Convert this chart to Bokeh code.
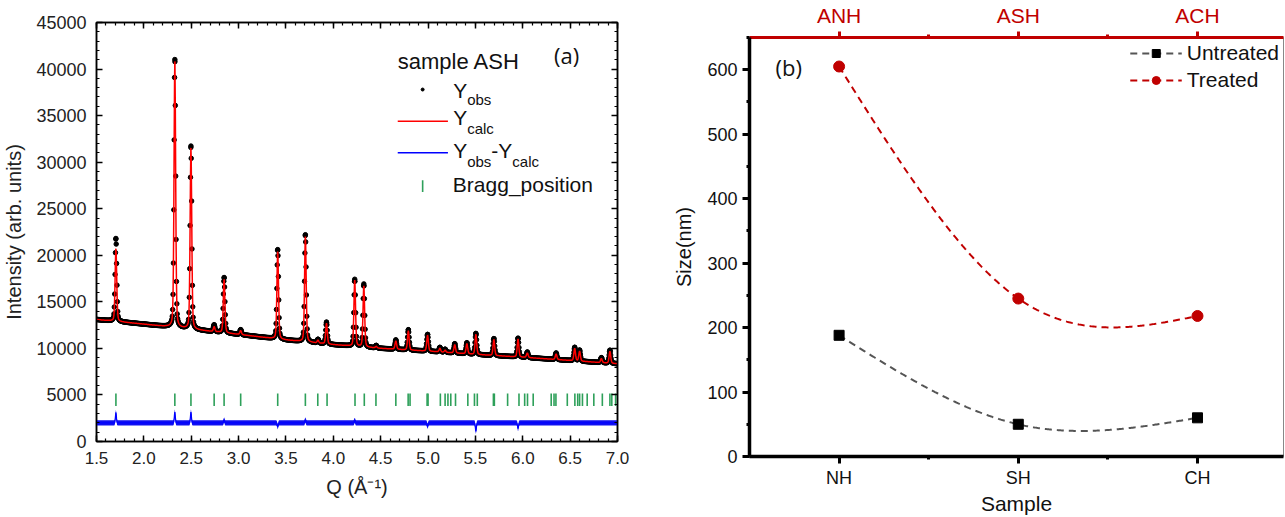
import numpy as np
from bokeh.plotting import figure
from bokeh.layouts import row, column
from bokeh.models import (Label, LinearAxis, SingleIntervalTicker, FixedTicker,
                          PrintfTickFormatter, CustomJSTickFormatter, Range1d)
from bokeh.embed import file_html
from bokeh.resources import INLINE

# ---------------- Panel (a) data ----------------
bg_q = [1.5, 2.0, 2.5, 3.0, 3.5, 4.0, 4.5, 5.0, 5.5, 6.0, 6.5, 7.0]
bg_i = [13100, 12600, 12050, 11500, 10900, 10400, 10000, 9700, 9350, 9050, 8700, 8350]

peak_q = [1.705, 2.327, 2.497, 2.742, 2.847, 3.022, 3.413, 3.705, 3.838, 3.928,
          4.226, 4.322, 4.453, 4.660, 4.792, 4.995, 5.125, 5.180, 5.282, 5.410,
          5.505, 5.695, 5.950, 6.048, 6.352, 6.548, 6.600, 6.830, 6.920]
peak_calc = [20700, 40800, 31500, 12300, 17400, 11900, 20400, 22000, 10850, 12700,
             17300, 16700, 10200, 10800, 11900, 11400, 10000, 9800, 10400, 10500,
             11500, 10950, 11000, 9500, 9400, 10000, 9700, 8900, 9700]
peak_obs = [21800, 41000, 31700, 12500, 17600, 12000, 20600, 22200, 10950, 12800,
            17400, 16900, 10300, 10900, 12000, 11500, 10100, 9900, 10500, 10600,
            11600, 11050, 11100, 9600, 9500, 10100, 9800, 9000, 9800]

bragg_q = [1.705, 2.327, 2.497, 2.742, 2.847, 3.022, 3.413, 3.705, 3.836, 3.934,
           4.229, 4.327, 4.45, 4.66, 4.79, 4.81, 4.99, 5.00, 5.13, 5.18, 5.21,
           5.24, 5.29, 5.42, 5.49, 5.52, 5.69, 5.70, 5.84, 5.96, 6.02, 6.05, 6.11,
           6.30, 6.33, 6.35, 6.47, 6.55, 6.58, 6.60, 6.63, 6.68, 6.75, 6.84, 6.92,
           6.94, 6.98]
bragg_lo, bragg_hi = 3800, 5150

diff_base = 2000
diff_q = [1.705, 2.327, 2.497, 2.847, 3.413, 3.705, 4.226, 4.995, 5.505, 5.950]
diff_amp = [1100, 1150, 1150, 300, -400, 300, 250, -350, -900, -600]

# ---------------- Panel (b) data ----------------
sample_pos = [1, 2, 3]
samples = ["NH", "SH", "CH"]
top_samples = ["ANH", "ASH", "ACH"]
untreated = [188, 50, 60]
treated = [605, 245, 218]

RED_B = "#C00000"
GRAY_B = "#555555"
GREEN = "#2EA05A"
FONT = "Liberation Sans"

# ---------------- profile construction ----------------
q = np.union1d(np.arange(1.5, 7.0001, 0.004), np.array(peak_q))
bg = np.interp(q, bg_q, bg_i)


def pv(x, w=0.02, eta=0.3):
    g = np.exp(-4 * np.log(2) * x ** 2 / w ** 2)
    lo = 1.0 / (1.0 + 4 * x ** 2 / w ** 2)
    return eta * lo + (1 - eta) * g


def profile(tops):
    y = bg.copy()
    for pq, top in zip(peak_q, tops):
        amp = top - np.interp(pq, bg_q, bg_i)
        y = y + amp * pv(q - pq)
    return y


calc = profile(peak_calc)
obs = profile(peak_obs)
diff = np.full_like(q, float(diff_base))
for dq, da in zip(diff_q, diff_amp):
    diff = diff + da * np.exp(-4 * np.log(2) * (q - dq) ** 2 / 0.012 ** 2)

blank = CustomJSTickFormatter(code="return ''")

p1 = figure(width=665, height=517, x_range=Range1d(1.5, 7.0), y_range=Range1d(0, 45000),
            output_backend="svg", toolbar_location=None,
            min_border_left=95, min_border_right=48, min_border_top=22, min_border_bottom=76)
p1.grid.visible = False
p1.outline_line_color = "black"
p1.outline_line_width = 1.5

xt = SingleIntervalTicker(interval=0.5, num_minor_ticks=5)
yt = SingleIntervalTicker(interval=5000, num_minor_ticks=5)
bx1 = p1.below[0]
ly1 = p1.left[0]
bx1.ticker = xt
ly1.ticker = yt
bx1.formatter = PrintfTickFormatter(format="%.1f")
ly1.formatter = PrintfTickFormatter(format="%d")
tx1 = LinearAxis(ticker=xt, formatter=blank, major_label_standoff=0)
ry1 = LinearAxis(ticker=yt, formatter=blank, major_label_standoff=0)
p1.add_layout(tx1, "above")
p1.add_layout(ry1, "right")
for ax in p1.axis:
    ax.axis_line_width = 1.5
    ax.major_tick_in = 6
    ax.major_tick_out = 0
    ax.minor_tick_in = 3
    ax.minor_tick_out = 0
    ax.major_tick_line_width = 1.5
    ax.minor_tick_line_width = 1.2
    ax.major_label_text_font = FONT
    ax.major_label_text_font_size = "17px"
    ax.major_label_text_color = "#222222"
    ax.axis_label_text_font = FONT
    ax.axis_label_text_font_style = "normal"
    ax.axis_label_text_font_size = "20px"
    ax.axis_label_text_color = "#222222"
tx1.major_label_text_font_size = "0px"
ry1.major_label_text_font_size = "0px"
ly1.major_label_text_font_size = "18px"
bx1.axis_label = "Q (Å⁻¹)"
bx1.major_label_standoff = 10
bx1.axis_label_standoff = 9
ly1.axis_label = "Intensity (arb. units)"
ly1.major_label_standoff = 10
ly1.axis_label_standoff = 8

p1.scatter(q, obs, size=4.5, color="black")
p1.line(q, calc, color="red", line_width=1.5)
p1.varea(x=q, y1=diff - 280, y2=diff + 280, color="#1010F0")
p1.line(q, diff, color="blue", line_width=1.2)
p1.segment(x0=bragg_q, y0=bragg_lo, x1=bragg_q, y1=bragg_hi, color=GREEN, line_width=1.6)


# manual legend (a)
def lab(plot, x, y, text, size="21px", font=FONT, color="#111111", align="left"):
    plot.add_layout(Label(x=x, y=y, text=text, text_font=font, text_font_size=size,
                          text_color=color, text_baseline="middle", text_align=align))


lab(p1, 4.68, 40800, "sample ASH", size="22px")
lab(p1, 6.33, 41500, "(a)", size="22px", font="Open Sans")
p1.scatter([4.943], [37800], size=3, color="black")
lab(p1, 5.265, 37750, "Y")
lab(p1, 5.413, 36750, "obs", size="15px")
p1.line([4.68, 5.21], [34400, 34400], color="red", line_width=1.5)
lab(p1, 5.265, 34750, "Y")
lab(p1, 5.413, 33600, "calc", size="15px")
p1.line([4.68, 5.21], [31000, 31000], color="blue", line_width=1.5)
lab(p1, 5.265, 31250, "Y")
lab(p1, 5.413, 30050, "obs", size="15px")
lab(p1, 5.668, 31250, "-Y")
lab(p1, 5.890, 30050, "calc", size="15px")
p1.segment(x0=[4.943], y0=[26800], x1=[4.943], y1=[28050], color=GREEN, line_width=1.6)
lab(p1, 5.262, 27550, "Bragg_position")


# ---------------- Panel (b) ----------------
def natural_spline(xs, ys, n=300):
    xs = np.asarray(xs, float)
    ys = np.asarray(ys, float)
    k = len(xs)
    h = np.diff(xs)
    A = np.zeros((k, k))
    r = np.zeros(k)
    A[0, 0] = A[-1, -1] = 1
    for i in range(1, k - 1):
        A[i, i - 1] = h[i - 1]
        A[i, i] = 2 * (h[i - 1] + h[i])
        A[i, i + 1] = h[i]
        r[i] = 6 * ((ys[i + 1] - ys[i]) / h[i] - (ys[i] - ys[i - 1]) / h[i - 1])
    M = np.linalg.solve(A, r)
    xx = np.linspace(xs[0], xs[-1], n)
    yy = np.empty_like(xx)
    for j, x in enumerate(xx):
        i = min(np.searchsorted(xs, x, side="right") - 1, k - 2)
        a = xs[i + 1] - x
        b = x - xs[i]
        hi = h[i]
        yy[j] = (M[i] * a ** 3 / (6 * hi) + M[i + 1] * b ** 3 / (6 * hi)
                 + (ys[i] / hi - M[i] * hi / 6) * a + (ys[i + 1] / hi - M[i + 1] * hi / 6) * b)
    return xx, yy


p2 = figure(width=620, height=517, x_range=Range1d(0.5, 3.48), y_range=Range1d(0, 650),
            output_backend="svg", toolbar_location=None,
            min_border_left=84, min_border_right=2, min_border_top=37, min_border_bottom=57)
p2.grid.visible = False
p2.outline_line_color = "#888888"
p2.outline_line_width = 1

bt = FixedTicker(ticks=sample_pos, minor_ticks=[1.5, 2.5])
bx2 = p2.below[0]
ly2 = p2.left[0]
bx2.ticker = bt
bx2.major_label_overrides = {pos: s for pos, s in zip(sample_pos, samples)}
ly2.ticker = SingleIntervalTicker(interval=100, num_minor_ticks=2)
top = LinearAxis(ticker=bt, major_label_overrides={pos: s for pos, s in zip(sample_pos, top_samples)})
p2.add_layout(top, "above")
for ax in p2.axis:
    ax.axis_line_width = 3.5
    ax.major_tick_in = 0
    ax.major_tick_out = 7
    ax.minor_tick_in = 0
    ax.minor_tick_out = 3
    ax.major_tick_line_width = 3
    ax.minor_tick_line_width = 3
    ax.major_label_text_font = FONT
    ax.major_label_text_font_size = "18px"
    ax.major_label_text_color = "#111111"
    ax.axis_label_text_font = FONT
    ax.axis_label_text_font_style = "normal"
    ax.axis_label_text_color = "#111111"
top.axis_line_color = RED_B
top.axis_line_width = 3
top.major_tick_line_color = RED_B
top.minor_tick_line_color = RED_B
top.major_tick_out = 6
top.major_label_text_color = RED_B
top.major_label_text_font_size = "21px"
top.major_label_standoff = 5
bx2.axis_label = "Sample"
bx2.axis_label_text_font_size = "21px"
bx2.major_label_standoff = 4
bx2.axis_label_standoff = 1
ly2.axis_label = "Size(nm)"
ly2.axis_label_text_font_size = "20px"
ly2.major_label_standoff = 5
ly2.axis_label_standoff = 9

ux, uy = natural_spline(sample_pos, untreated)
tx, ty = natural_spline(sample_pos, treated)
p2.line(ux, uy, color=GRAY_B, line_width=2, line_dash="7 5", legend_label="Untreated")
p2.scatter(sample_pos, untreated, marker="square", size=10, color="black", legend_label="Untreated")
p2.line(tx, ty, color=RED_B, line_width=2, line_dash="7 5", legend_label="Treated")
p2.scatter(sample_pos, treated, marker="circle", size=11, color=RED_B, legend_label="Treated")

lg = p2.legend[0]
lg.location = "top_right"
lg.border_line_color = None
lg.background_fill_alpha = 0
lg.label_text_font = FONT
lg.label_text_font_size = "21px"
lg.label_text_color = "#111111"
lg.glyph_width = 52
lg.glyph_height = 20
lg.spacing = 3
lg.padding = 2
lg.margin = 4
lg.label_standoff = 5

p2.add_layout(Label(x=0.645, y=605, text="(b)", text_font="Open Sans", text_font_size="22px",
                    text_color="#111111", text_baseline="middle"))

layout = row(column(p1), column(p2))
open("out.html", "w").write(file_html(layout, INLINE))
